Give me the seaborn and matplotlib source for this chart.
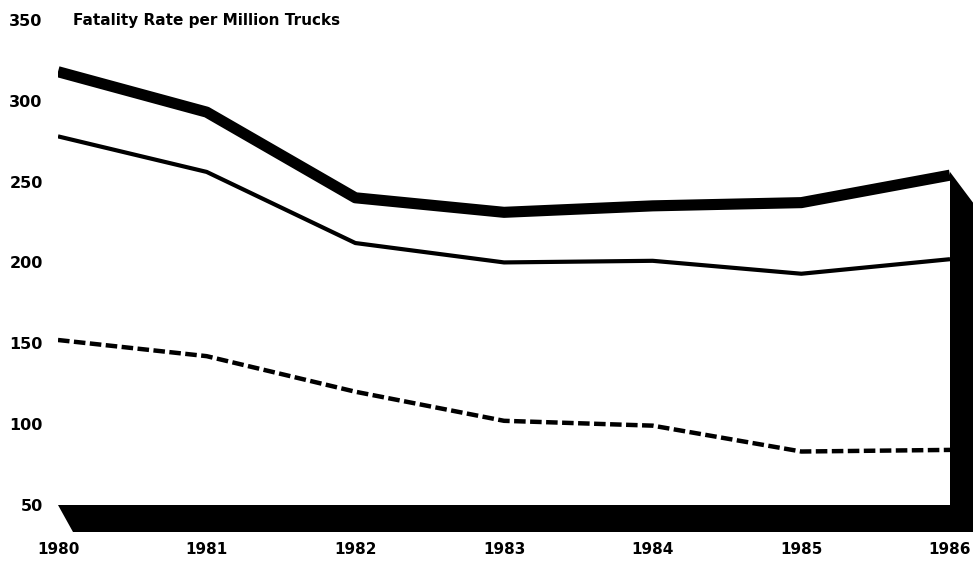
import matplotlib
matplotlib.use("Agg")
import matplotlib.pyplot as plt
import seaborn as sns
import pandas as pd
from matplotlib.patches import Polygon

years = [1980, 1981, 1982, 1983, 1984, 1985, 1986]
series_top = [318, 293, 240, 231, 235, 237, 254]
series_mid = [278, 256, 212, 200, 201, 193, 202]
series_low = [152, 142, 120, 102, 99, 83, 84]
y_ticks = [50, 100, 150, 200, 250, 300, 350]
title = "Fatality Rate per Million Trucks"

sns.set_style("white")
plt.rcParams["font.family"] = ["DejaVu Sans"]
plt.rcParams["text.color"] = "black"
plt.rcParams["xtick.color"] = "black"
plt.rcParams["ytick.color"] = "black"

W, H = 979, 575
fig = plt.figure(figsize=(W / 100, H / 100), dpi=100)
x0, x1 = 58, 973
ytop, ybot = 20, 532
ax = fig.add_axes([x0 / W, 1 - ybot / H, (x1 - x0) / W, (ybot - ytop) / H])

df = pd.DataFrame({"year": years, "top": series_top, "mid": series_mid, "low": series_low})
sns.lineplot(data=df, x="year", y="top", ax=ax, color="black", lw=8,
             solid_capstyle="butt", solid_joinstyle="round")
sns.lineplot(data=df, x="year", y="mid", ax=ax, color="black", lw=3,
             solid_capstyle="butt", solid_joinstyle="round")
sns.lineplot(data=df, x="year", y="low", ax=ax, color="black", lw=3.2,
             linestyle=(0, (2.6, 1.0)), dash_capstyle="butt")

ymin, ymax = 33.2, 350
xmin = years[0]
xmax = years[-1] + 23 / 148.67
ax.set_xlim(xmin, xmax)
ax.set_ylim(ymin, ymax)

slant = 15 / 148.67
floor = Polygon([(years[0], y_ticks[0]), (xmax, y_ticks[0]), (xmax, ymin),
                 (years[0] + slant, ymin)], closed=True, color="black", lw=0, zorder=3)
ax.add_patch(floor)
wall = Polygon([(years[-1], series_top[-1] + 2), (xmax, series_top[-1] - 17),
                (xmax, ymin), (years[-1], ymin)], closed=True, color="black", lw=0, zorder=3)
ax.add_patch(wall)

ax.set_xticks(years)
ax.set_xticklabels([str(y) for y in years], fontsize=11, fontweight="bold")
ax.set_yticks(y_ticks)
ax.set_yticklabels([str(v) for v in y_ticks], fontsize=11.5, fontweight="bold")
ax.tick_params(axis="y", length=0, pad=11)
ax.tick_params(axis="x", length=0, pad=7)
for s in ax.spines.values():
    s.set_visible(False)
ax.set_xlabel("")
ax.set_ylabel("")
ax.text(1980.1, 350, title, fontsize=11, fontweight="bold", va="center", ha="left")

fig.savefig("out.png", dpi=100)
